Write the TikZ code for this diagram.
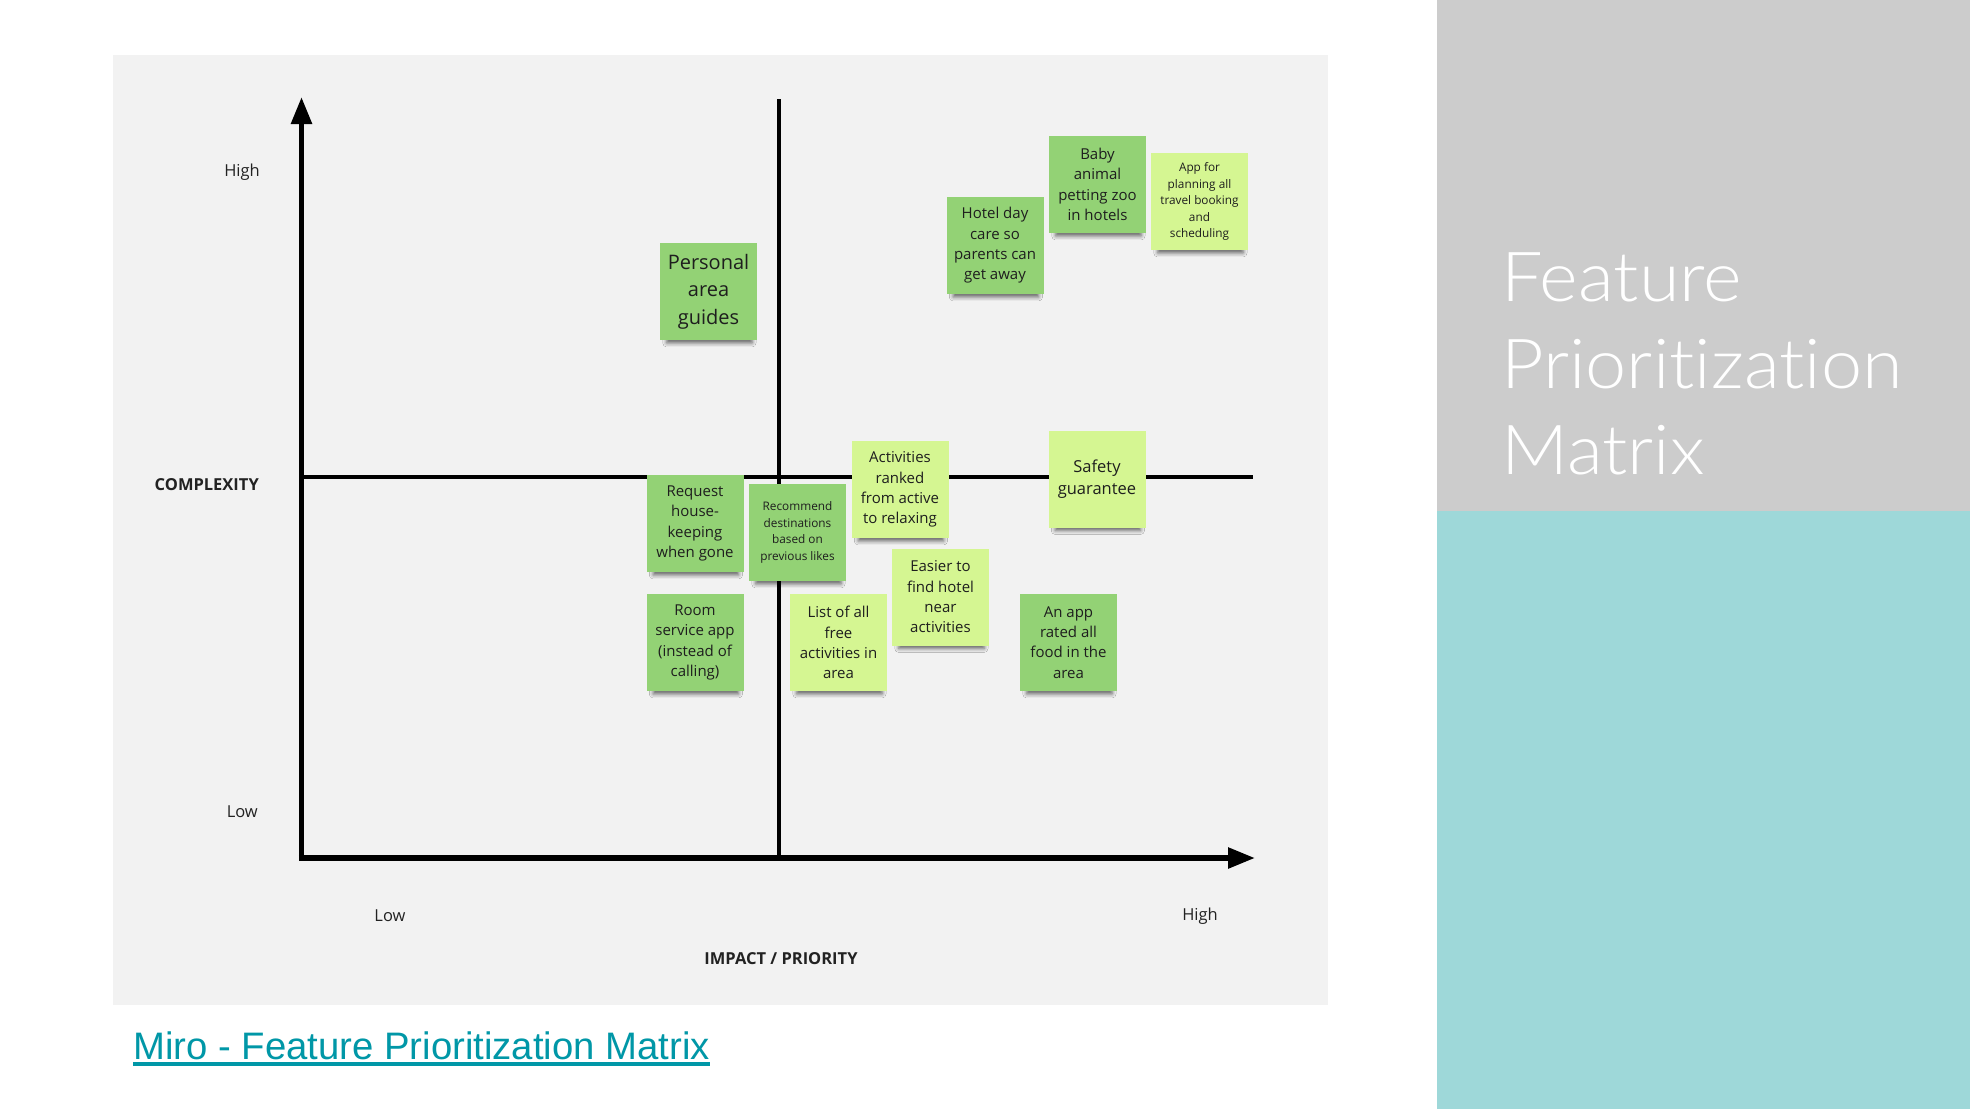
\documentclass[tikz,border=0pt]{standalone}
\usepackage{fontspec}
\setmainfont{Open Sans}
\newfontfamily\linkfont{Liberation Sans}
\newfontfamily\titlefont{Lato Light}[Ligatures={NoCommon,NoRequired,NoContextual}, FakeStretch=1.07]
\usetikzlibrary{arrows.meta,shadows.blur}
\definecolor{bgmain}{HTML}{F2F2F2}
\definecolor{panelgray}{HTML}{CCCCCC}
\definecolor{panelteal}{HTML}{9ED8D9}
\definecolor{darkgreen}{HTML}{93D275}
\definecolor{lightgreen}{HTML}{D5F692}
\definecolor{stickytext}{HTML}{1E1E1E}
\definecolor{linkteal}{HTML}{0097A7}
\definecolor{labeltext}{HTML}{222222}
\tikzset{
  sticky/.style={minimum width=97pt, minimum height=97pt, inner sep=0pt,
    align=center, text=stickytext,
    blur shadow={shadow xshift=1pt, shadow yshift=-10pt, shadow scale=0.88,
      shadow blur radius=4.5pt, shadow opacity=60}},
  dg/.style={sticky, fill=darkgreen},
  lg/.style={sticky, fill=lightgreen},
  fsnormal/.style={font=\fontsize{15}{20.3}\selectfont},
  fssmall/.style={font=\fontsize{11.8}{16.5}\selectfont},
  fsbig/.style={font=\fontsize{20}{27.5}\selectfont},
  fsmid/.style={font=\fontsize{16.5}{22.3}\selectfont},
  axislbl/.style={text=labeltext, inner sep=0pt, font=\fontsize{16.5}{20}\selectfont},
  axisbold/.style={axislbl, font=\fontsize{16.5}{20}\selectfont\bfseries},
  axisline/.style={line width=5.5pt, black},
  midline/.style={line width=4.5pt, black},
  titletxt/.style={text=white, anchor=base west, inner sep=0pt, font=\titlefont\fontsize{69}{86}\selectfont}
}
\begin{document}
\begin{tikzpicture}[x=1pt,y=-1pt]
\useasboundingbox (0,0) rectangle (1970,1109);
\fill[white] (0,0) rectangle (1970,1109);
% right panels
\fill[panelgray] (1437.3,0) rectangle (1970,511);
\fill[panelteal] (1437.3,511) rectangle (1970,1109);
% matrix background
\fill[bgmain] (113,55) rectangle (1328,1005);

% axes coordinates
\coordinate (origin) at (301.5,858);
\coordinate (ytip) at (301.5,97);
\coordinate (xtip) at (1255,858);
\coordinate (hl) at (301.5,477);
\coordinate (hr) at (1253,477);
\coordinate (vt) at (779,99);
\coordinate (vb) at (779,858);

\draw[midline] (hl) -- (hr);
\draw[midline] (vt) -- (vb);
\draw[axisline, -{Triangle[length=27pt,width=20pt]}] ([yshift=2.75pt]origin) -- (ytip);
\draw[axisline, -{Triangle[length=27pt,width=20pt]}] ([xshift=-2.75pt]origin) -- (xtip);

% axis labels
\node[axislbl, anchor=east] (yhigh) at (260,172) {High};
\node[axisbold, anchor=east] (ylbl) at (259,485) {COMPLEXITY};
\node[axislbl, anchor=east] (ylow) at (258,812) {Low};
\node[axislbl] (xlow) at (390,916) {Low};
\node[axislbl] (xhigh) at (1200,916) {High};
\node[axisbold] (xlbl) at (781,959) {IMPACT / PRIORITY};

% sticky notes
\node[dg, fsbig] (s1) at (708.5,291.5) {Personal\\area\\guides};
\node[dg, fsnormal] (s2) at (995,245.5) {Hotel day\\care so\\parents can\\get away};
\node[dg, fsnormal] (s3) at (1097.5,184.5) {Baby\\animal\\petting zoo\\in hotels};
\node[lg, fssmall] (s4) at (1199.5,201.5) {App for\\planning all\\travel booking\\and\\scheduling};
\node[dg, fsnormal] (s5) at (695,523.5) {Request\\house-\\keeping\\when gone};
\node[dg, fssmall] (s6) at (797.5,532.5) {Recommend\\destinations\\based on\\previous likes};
\node[lg, fsnormal] (s7) at (900,489.5) {Activities\\ranked\\from active\\to relaxing};
\node[lg, fsmid] (s8) at (1097,479) {Safety\\guarantee};
\node[lg, fsnormal] (s9) at (940.5,597) {Easier to\\find hotel\\near\\activities};
\node[dg, fsnormal] (s10) at (695,642.5) {Room\\service app\\(instead of\\calling)};
\node[lg, fsnormal] (s11) at (838.5,642.5) {List of all\\free\\activities in\\area};
\node[dg, fsnormal] (s12) at (1068.5,642.5) {An app\\rated all\\food in the\\area};

% link
\node[anchor=base west, inner sep=0pt, text=linkteal, font=\linkfont\fontsize{38.3}{44}\selectfont] (link) at (133,1059.3) {Miro - Feature Prioritization Matrix};
\draw[linkteal, line width=3.3pt] ([yshift=-4.7pt]link.base west) -- ([yshift=-4.7pt]link.base east);

% title
\node[titletxt] (t1) at (1501,301.7) {Feature};
\node[titletxt] (t2) at (1501,388) {Prioritization};
\node[titletxt] (t3) at (1501,474) {Matrix};
\end{tikzpicture}
\end{document}
